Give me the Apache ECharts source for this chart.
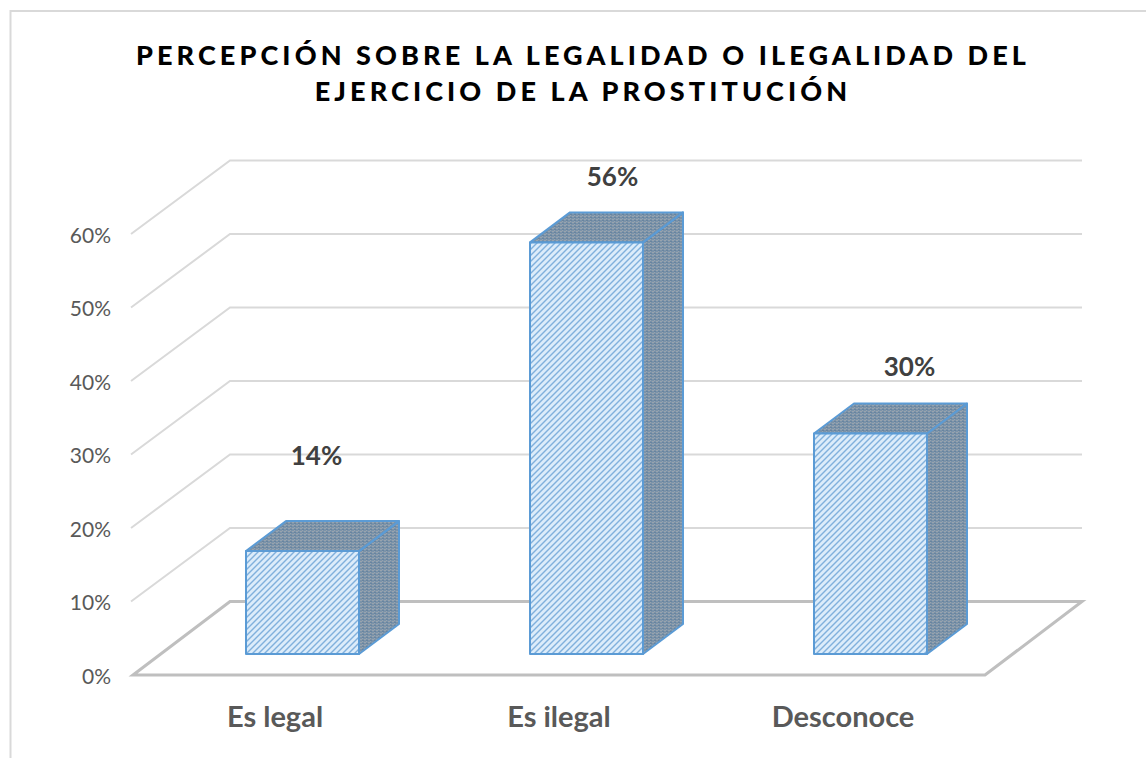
<!DOCTYPE html>
<html><head><meta charset="utf-8">
<style>
html,body{margin:0;padding:0;background:#fff;}
#c{width:1146px;height:758px;}
#c text[style*="27px"]{letter-spacing:4.1px;}
</style>
<script src="https://cdn.jsdelivr.net/npm/echarts@6/dist/echarts.min.js"></script>
</head><body><div id="c"></div>
<script>
const categories = ['Es legal', 'Es ilegal', 'Desconoce'];
const shares = [14, 56, 30];
const wallTicks = [10, 20, 30, 40, 50, 60];
const titleText = 'PERCEPCIÓN SOBRE LA LEGALIDAD O ILEGALIDAD DEL\nEJERCICIO DE LA PROSTITUCIÓN';

// 3D projection of the plot box, in pixels
const wallDepth = [97, -73.5];
const barShift = [27.5, -21];
const barDepth = [40, -30];
const barWidth = 113;
const labelNudge = [[14, -96], [26, -66], [39, -68]];
const font = 'Lato, Carlito, Calibri, sans-serif';

function hatch() {
  const s = 6, c = document.createElement('canvas');
  c.width = c.height = s;
  const g = c.getContext('2d');
  g.fillStyle = '#dcecfa'; g.fillRect(0, 0, s, s);
  g.strokeStyle = '#80b0dc'; g.lineWidth = 1.4;
  [[-1, 1, 1, -1], [-1, 7, 7, -1], [5, 7, 7, 5]].forEach(l => {
    g.beginPath(); g.moveTo(l[0], l[1]); g.lineTo(l[2], l[3]); g.stroke();
  });
  return c;
}
function dots() {
  const c = document.createElement('canvas');
  c.width = 4; c.height = 3;
  const g = c.getContext('2d');
  g.fillStyle = '#7b93a9'; g.fillRect(0, 0, 4, 3);
  g.fillStyle = '#98a3ae'; g.fillRect(0, 0, 2, 1); g.fillRect(2, 2, 1, 1);
  g.fillStyle = '#68849f'; g.fillRect(2, 1, 2, 1);
  return c;
}
const frontFill = { image: hatch(), repeat: 'repeat' };
const sideFill = { image: dots(), repeat: 'repeat' };
const barBlue = '#5b9bd5';

const chart = echarts.init(document.getElementById('c'), null, { renderer: 'svg' });
chart.setOption({
  animation: false,
  backgroundColor: '#fff',
  title: {
    text: titleText, left: 578, top: 31, textAlign: 'center',
    textStyle: { fontFamily: font, fontWeight: 900, fontSize: 27, lineHeight: 36, color: '#000' }
  },
  graphic: [{
    type: 'polyline', silent: true,
    shape: { points: [[10.5, 758], [10.5, 11], [1146, 11]] },
    style: { stroke: '#d9d9d9', lineWidth: 2, fill: 'none' }
  }],
  grid: { left: 133, right: 161, top: 234, bottom: 83 },
  xAxis: {
    type: 'category', data: categories,
    axisLine: { show: false }, axisTick: { show: false },
    axisLabel: { margin: 26, fontFamily: font, fontWeight: 'bold', fontSize: 29, color: '#595959' }
  },
  yAxis: {
    type: 'value', min: 0, max: 60, interval: 10,
    axisLine: { show: false }, axisTick: { show: false }, splitLine: { show: false },
    axisLabel: { margin: 22, formatter: '{value}%', fontFamily: font, fontSize: 21, color: '#595959', padding: [0, 0, 3, 0] }
  },
  series: [{
    type: 'custom', silent: true, z: 1, clip: false,
    data: wallTicks.map(v => [0, v]),
    renderItem(params, api) {
      const p = api.coord([0, api.value(1)]);
      const band = api.size([1, 0])[0];
      const left = p[0] - band / 2;
      const right = left + band * categories.length;
      const yb = p[1] + wallDepth[1];
      return {
        type: 'polyline',
        shape: { points: [[left - 2, p[1]], [left + wallDepth[0], yb], [right + wallDepth[0], yb]] },
        style: { stroke: '#d9d9d9', lineWidth: 2, fill: 'none' }
      };
    }
  }, {
    type: 'custom', silent: true, z: 2, clip: false,
    data: [[0, 0]],
    renderItem(params, api) {
      const p = api.coord([0, 0]);
      const band = api.size([1, 0])[0];
      const l = p[0] - band / 2, r = l + band * categories.length, y = p[1];
      return {
        type: 'polygon',
        shape: { points: [[l, y], [l + wallDepth[0], y + wallDepth[1]], [r + wallDepth[0], y + wallDepth[1]], [r, y]] },
        style: { stroke: '#bfbfbf', lineWidth: 3, fill: 'none' }
      };
    }
  }, {
    type: 'custom', silent: true, z: 3, clip: false,
    data: shares.map((v, i) => [i, v]),
    renderItem(params, api) {
      const i = api.value(0), val = api.value(1);
      const top = api.coord([i, val]), base = api.coord([i, 0]);
      const xl = top[0] + barShift[0] - barWidth / 2, xr = xl + barWidth;
      const yt = top[1] + barShift[1], yb = base[1] + barShift[1];
      const dx = barDepth[0], dy = barDepth[1];
      const edge = { stroke: barBlue, lineWidth: 2, lineJoin: 'round' };
      const nudge = labelNudge[i];
      return {
        type: 'group',
        children: [
          { type: 'polygon', shape: { points: [[xr, yt], [xr + dx, yt + dy], [xr + dx, yb + dy], [xr, yb]] },
            style: Object.assign({ fill: sideFill }, edge) },
          { type: 'polygon', shape: { points: [[xl, yt], [xl + dx, yt + dy], [xr + dx, yt + dy], [xr, yt]] },
            style: Object.assign({ fill: sideFill }, edge) },
          { type: 'rect', shape: { x: xl, y: yt, width: barWidth, height: yb - yt },
            style: Object.assign({ fill: frontFill }, edge) },
          { type: 'text', x: xl + barWidth / 2 + nudge[0], y: yt + nudge[1],
            style: { text: val + '%', align: 'center', verticalAlign: 'middle',
              fontFamily: font, fontWeight: 'bold', fontSize: 26, fill: '#404040' } }
        ]
      };
    }
  }]
});
</script></body></html>
